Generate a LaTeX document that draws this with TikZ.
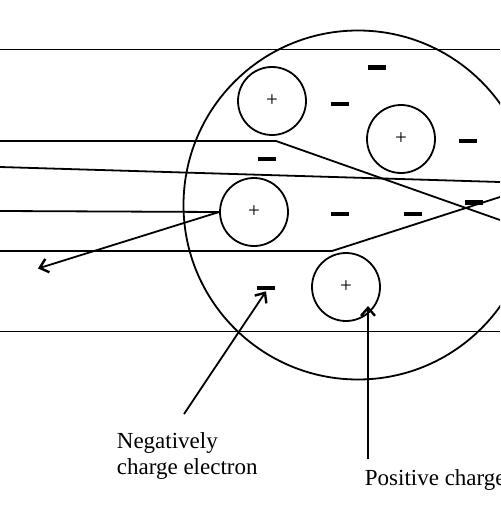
\documentclass[tikz,border=0pt]{standalone}
\usepackage{fontspec}
\setmainfont{Liberation Serif}
\usetikzlibrary{arrows.meta}
\begin{document}
\begin{tikzpicture}[x=1pt,y=-1pt,line width=1.8pt,
  ion/.style={draw,circle,minimum size=68pt,inner sep=0pt,font=\fontsize{21}{21}\selectfont},
  atom/.style={draw,circle,minimum size=349pt,inner sep=0pt},
  elec/.style={fill=black,minimum width=18pt,minimum height=4.8pt,inner sep=0pt,rectangle},
  lbl/.style={font=\fontsize{23}{26}\selectfont,inner sep=0pt,align=left},
  tip/.style={-{Straight Barb[length=8pt,width=14pt,line width=2.4pt]}}]
\useasboundingbox (0,0) rectangle (500,508);
\clip (0,0) rectangle (500,508);
% big circle
\node[atom] (atom) at (358,205) {};
% positive ions
\node[ion] (c1) at (272,101) {+};
\node[ion] (c2) at (401,139) {+};
\node[ion] (c3) at (254,212) {+};
\node[ion] (c4) at (346,287) {+};
% electrons
\node[elec] (e1) at (377,67.5) {};
\node[elec] (e2) at (340,104) {};
\node[elec] (e3) at (468,141) {};
\node[elec] (e4) at (267,159) {};
\node[elec] (e5) at (340,214) {};
\node[elec] (e6) at (413,214) {};
\node[elec] (e7) at (474,202.5) {};
\node[elec] (e8) at (266,288) {};
% lines (paths of particles)
\coordinate (l1a) at (0,49.5);  \coordinate (l1b) at (500,49.5);
\coordinate (l2a) at (0,141);   \coordinate (l2k) at (276,141); \coordinate (l2b) at (500,220);
\coordinate (l3a) at (0,167);   \coordinate (l3b) at (500,182);
\coordinate (l4a) at (0,211);
\coordinate (l4e) at (38,268.5);
\coordinate (l5a) at (0,251);   \coordinate (l5k) at (332,251); \coordinate (l5b) at (500,197);
\coordinate (l6a) at (0,331.5); \coordinate (l6b) at (500,331.5);
\draw (l1a) -- (l1b);
\draw (l2a) -- (l2k) -- (l2b);
\draw (l3a) -- (l3b);
\draw (l4a) -- (c3.west);
\draw[tip] (c3.west) -- (l4e);
\draw (l5a) -- (l5k) -- (l5b);
\draw (l6a) -- (l6b);
% labels
\node[lbl,anchor=base west] (neg) at (116,474) {Negatively\\charge electron};
\node[lbl,anchor=base west] (pos) at (364,485) {Positive charge};
\coordinate (negs) at (184,414);
\coordinate (poss) at (368,459);
\draw[tip] (negs) -- (e8.south);
\draw[tip] (poss) -- (368,306);
\end{tikzpicture}
\end{document}
